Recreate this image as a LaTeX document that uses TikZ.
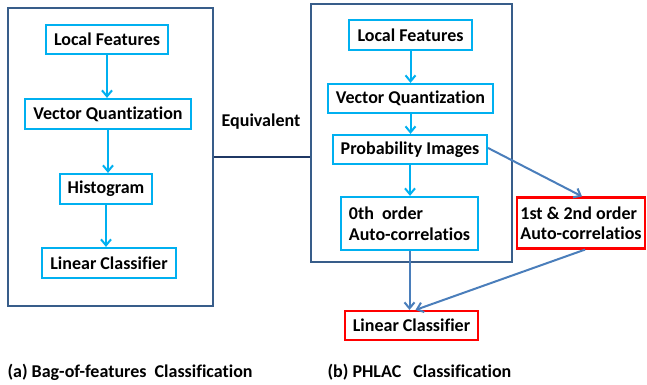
\documentclass[tikz,border=0pt]{standalone}
\usepackage{fontspec}
\setmainfont{Carlito}[Ligatures=NoCommon]
\usepackage{xcolor}
\usepackage{tikz}
\usetikzlibrary{arrows.meta,positioning,calc}
\definecolor{boxcyan}{HTML}{00B0F0}
\definecolor{framegray}{HTML}{385D8A}
\definecolor{linkblue}{HTML}{4A7EBB}
\definecolor{eqnavy}{HTML}{1F3864}
\tikzset{
	stepbox/.style={draw=boxcyan,line width=2.2pt,inner sep=0pt,font=\fontsize{18}{20.5}\selectfont\bfseries},
	redbox/.style={stepbox,draw=red},
	groupbox/.style={draw=framegray,line width=2pt,inner sep=0pt},
	cyanarrow/.style={-{Straight Barb[length=6pt,width=10pt]},boxcyan,line width=2pt},
	bluearrow/.style={-{Straight Barb[length=6pt,width=10pt]},linkblue,line width=2pt},
	caption/.style={anchor=west,font=\fontsize{18}{20.5}\selectfont\bfseries}
}
\begin{document}
\begin{tikzpicture}[x=1pt,y=-1pt]
	  	\useasboundingbox (0,0) rectangle (647,384);
	  	\node[groupbox,minimum width=205pt,minimum height=298pt] (bofbox) at (110.5,157) {};
	  	\node[groupbox,minimum width=201pt,minimum height=258pt] (phlacbox) at (411.5,133) {};
	  	\node[stepbox,minimum width=122pt,minimum height=29pt] (lf1) at (107,39.5) {Local Features};
	  	\node[stepbox,minimum width=166pt,minimum height=30pt] (vq1) at (108,114) {Vector Quantization};
	  	\node[stepbox,minimum width=92pt,minimum height=30pt] (hist) at (106,189) {Histogram};
	  	\node[stepbox,minimum width=134pt,minimum height=30pt] (lc1) at (109,263) {Linear Classifier};
	  	\node[stepbox,minimum width=123pt,minimum height=30pt] (lf2) at (410.5,35) {Local Features};
	  	\node[stepbox,minimum width=165pt,minimum height=29pt] (vq2) at (410.5,98.5) {Vector Quantization};
	  	\node[stepbox,minimum width=154pt,minimum height=29pt] (prob) at (410,149.5) {Probability Images};
	  	\node[stepbox,align=left,minimum width=137pt,minimum height=53pt] (zeroth) at (409.5,223.5) {0th~ order\\Auto-correlatios};
	  	\node[redbox,align=left,minimum width=128pt,minimum height=51pt] (higher) at (581,223) {1st \& 2nd order\\Auto-correlatios};
	  	\node[redbox,minimum width=133pt,minimum height=29pt] (lc2) at (411.5,325.5) {Linear Classifier};
	  	\node[font=\fontsize{18}{20.5}\selectfont\bfseries] (equiv) at (261,122) {Equivalent};
	  	\node[caption] (capa) at (4,372) {(a) Bag-of-features~ Classification};
	  	\node[caption] (capb) at (324,372) {(b) PHLAC~~ Classification};
	  	\draw[eqnavy,line width=2pt] (bofbox.east) -- (bofbox.east -| phlacbox.west);
	  	\draw[cyanarrow] (lf1.south) -- (lf1.south |- vq1.north);
	  	\draw[cyanarrow] (vq1.south) -- (vq1.south |- hist.north);
	  	\draw[cyanarrow] (hist.south) -- (hist.south |- lc1.north);
	  	\draw[cyanarrow] (lf2.south) -- (lf2.south |- vq2.north);
	  	\draw[cyanarrow] (vq2.south) -- (vq2.south |- prob.north);
	  	\draw[cyanarrow] (prob.south) -- (prob.south |- zeroth.north);
	  	\draw[bluearrow] ([yshift=1.5pt]prob.east) -- ([xshift=1pt]higher.north);
	  	\draw[bluearrow] (zeroth.south) -- (zeroth.south |- lc2.north);
	  	\draw[bluearrow] ([xshift=4pt]higher.south) -- ([xshift=4pt]lc2.north);
	  \end{tikzpicture}
\end{document}
